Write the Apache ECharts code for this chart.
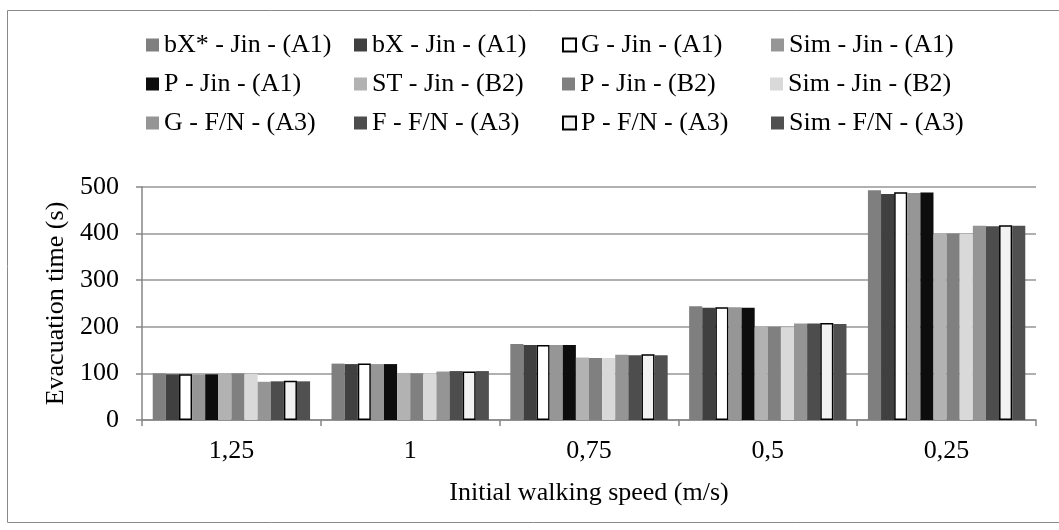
<!DOCTYPE html>
<html>
<head>
<meta charset="utf-8">
<script src="https://cdn.jsdelivr.net/npm/echarts@6/dist/echarts.min.js"></script>
<style>
  html, body { margin: 0; padding: 0; background: #ffffff; }
  #chart { width: 1059px; height: 530px; }
</style>
</head>
<body>
<div id="chart"></div>
<script>
// Walking speed categories (m/s)
var speeds = ['1,25', '1', '0,75', '0,5', '0,25'];

// Evacuation times (s) per model / data set
var bXstarJinA1 = [100, 121, 163, 244, 493];
var bXJinA1     = [98, 120, 161, 241, 485];
var gJinA1      = [98, 121, 161, 242, 489];
var simJinA1    = [97, 120, 161, 242, 487];
var pJinA1      = [98, 120, 161, 241, 488];
var stJinB2     = [100, 101, 134, 200, 400];
var pJinB2      = [100, 100, 133, 200, 400];
var simJinB2    = [99, 100, 133, 199, 399];
var gFNA3       = [82, 104, 140, 207, 417];
var fFNA3       = [83, 105, 139, 207, 416];
var pFNA3       = [84, 104, 141, 208, 418];
var simFNA3     = [83, 105, 139, 206, 417];

var seriesDefs = [
  { name: 'bX* - Jin - (A1)', data: bXstarJinA1, color: '#7f7f7f' },
  { name: 'bX - Jin - (A1)',  data: bXJinA1,     color: '#404040' },
  { name: 'G - Jin - (A1)',   data: gJinA1,      color: '#ffffff', border: true },
  { name: 'Sim - Jin - (A1)', data: simJinA1,    color: '#969696' },
  { name: 'P - Jin - (A1)',   data: pJinA1,      color: '#0d0d0d' },
  { name: 'ST - Jin - (B2)',  data: stJinB2,     color: '#b2b2b2' },
  { name: 'P - Jin - (B2)',   data: pJinB2,      color: '#808080' },
  { name: 'Sim - Jin - (B2)', data: simJinB2,    color: '#d9d9d9' },
  { name: 'G - F/N - (A3)',   data: gFNA3,       color: '#959595' },
  { name: 'F - F/N - (A3)',   data: fFNA3,       color: '#4d4d4d' },
  { name: 'P - F/N - (A3)',   data: pFNA3,       color: '#f2f2f2', border: true },
  { name: 'Sim - F/N - (A3)', data: simFNA3,     color: '#505050' }
];

var serif = '"Liberation Serif", "Times New Roman", "DejaVu Serif", serif';

var chart = echarts.init(document.getElementById('chart'), null, { renderer: 'canvas' });

var option = {
  backgroundColor: '#ffffff',
  animation: false,
  graphic: [{
    type: 'rect',
    shape: { x: 7.5, y: 10.5, width: 1070, height: 512 },
    style: { fill: 'none', stroke: '#8a8a8a', lineWidth: 1 },
    silent: true
  }],
  legend: {
    left: 141,
    top: 27,
    width: 860,
    itemWidth: 13,
    itemHeight: 13,
    itemGap: 13,
    icon: 'rect',
    textStyle: {
      fontFamily: serif,
      fontSize: 26,
      color: '#000000',
      width: 177,
      lineHeight: 26
    },
    data: seriesDefs.map(function (s) { return s.name; })
  },
  grid: {
    left: 142,
    right: 23,
    top: 187,
    bottom: 110,
    containLabel: false
  },
  xAxis: {
    type: 'category',
    data: speeds,
    name: 'Initial walking speed (m/s)',
    nameLocation: 'middle',
    nameGap: 60,
    nameTextStyle: { fontFamily: serif, fontSize: 26, color: '#000000' },
    axisLine: { lineStyle: { color: '#868686', width: 1.5 } },
    axisTick: { show: true, length: 6, lineStyle: { color: '#868686', width: 1.5 } },
    axisLabel: { fontFamily: serif, fontSize: 26, color: '#000000', margin: 18 },
    splitLine: { show: false }
  },
  yAxis: {
    type: 'value',
    min: 0,
    max: 500,
    interval: 100,
    name: 'Evacuation time (s)',
    nameLocation: 'middle',
    nameGap: 69,
    nameTextStyle: { fontFamily: serif, fontSize: 26, color: '#000000' },
    axisLine: { show: true, lineStyle: { color: '#868686', width: 1.5 } },
    axisTick: { show: true, length: 6, lineStyle: { color: '#868686', width: 1.5 } },
    axisLabel: { fontFamily: serif, fontSize: 26, color: '#000000', margin: 23 },
    splitLine: { show: true, lineStyle: { color: '#969696', width: 1.5 } }
  },
  series: seriesDefs.map(function (s) {
    return {
      name: s.name,
      type: 'bar',
      data: s.data,
      barGap: '0%',
      barCategoryGap: '12%',
      itemStyle: {
        color: s.color,
        borderColor: s.border ? '#000000' : s.color,
        borderWidth: s.border ? 1.5 : 0
      },
      emphasis: { disabled: true }
    };
  })
};

chart.setOption(option);
</script>
</body>
</html>
